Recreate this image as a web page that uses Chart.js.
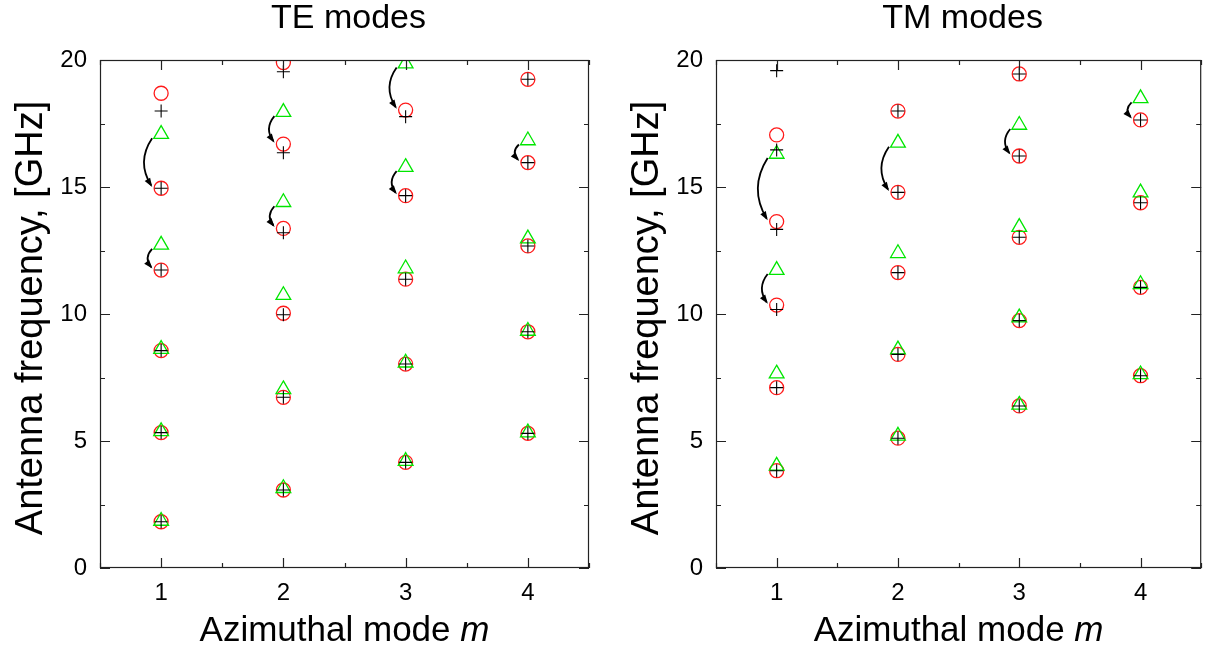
<!DOCTYPE html>
<html>
<head>
<meta charset="utf-8">
<script src="https://cdn.jsdelivr.net/npm/chart.js@4.4.1/dist/chart.umd.min.js"></script>
<style>
  body { margin: 0; background: #fff; width: 1211px; height: 661px; overflow: hidden; position: relative; }
  canvas { position: absolute; top: 0; }
  #te { left: 0; }
  #tm { left: 605px; }
</style>
</head>
<body>
<canvas id="te" width="605" height="661"></canvas>
<canvas id="tm" width="606" height="661"></canvas>
<script>
const modes = [1, 2, 3, 4];
const xTicks = [1, 2, 3, 4];
const yTicks = [0, 5, 10, 15, 20];

// TE modes, one list per m
const teCircle = [
  [18.69, 14.95, 11.73, 8.56, 5.33, 1.82],
  [19.90, 16.69, 13.37, 10.03, 6.72, 3.07],
  [18.03, 14.66, 11.37, 8.03, 4.16],
  [19.24, 15.96, 12.68, 9.30, 5.30]
];
const tePlus = [
  [17.99, 14.95, 11.73, 8.56, 5.33, 1.82],
  [19.54, 16.35, 13.20, 9.97, 6.72, 3.07],
  [17.77, 14.66, 11.37, 8.03, 4.16],
  [19.24, 15.96, 12.68, 9.30, 5.30]
];
const teTriangle = [
  [17.08, 12.72, 8.62, 5.38, 1.85],
  [17.95, 14.40, 10.74, 7.03, 3.14],
  [19.86, 15.78, 11.79, 8.08, 4.21],
  [16.83, 12.97, 9.33, 5.33]
];
// [m, from (triangle), to (circle)]
const teArrows = [
  [1, 17.08, 14.95], [1, 12.72, 11.73],
  [2, 17.95, 16.69], [2, 14.40, 13.37],
  [3, 19.86, 18.03], [3, 15.78, 14.66],
  [4, 16.83, 15.96]
];

// TM modes
const tmCircle = [
  [17.05, 13.64, 10.35, 7.10, 3.83],
  [17.99, 14.79, 11.63, 8.41, 5.11],
  [19.45, 16.22, 13.02, 9.74, 6.38],
  [17.64, 14.38, 11.05, 7.57]
];
const tmPlus = [
  [19.58, 16.46, 13.33, 10.18, 7.10, 3.83],
  [17.99, 14.79, 11.63, 8.41, 5.11],
  [19.45, 16.22, 13.02, 9.74, 6.38],
  [17.64, 14.38, 11.05, 7.57]
];
const tmTriangle = [
  [16.30, 11.73, 7.65, 4.02],
  [16.74, 12.39, 8.60, 5.20],
  [17.44, 13.42, 9.86, 6.42],
  [18.49, 14.78, 11.17, 7.62]
];
const tmArrows = [
  [1, 16.30, 13.64], [1, 11.73, 10.35],
  [2, 16.74, 14.79],
  [3, 17.44, 16.22],
  [4, 18.49, 17.64]
];

const FONT = '"Liberation Sans", Arial, Helvetica, sans-serif';

function points(lists) {
  const out = [];
  lists.forEach((vals, i) => vals.forEach(v => out.push({ x: modes[i], y: v })));
  return out;
}

// frame with inward ticks, titles and the little curved arrows
const framePlugin = {
  id: 'frame',
  afterDatasetsDraw(chart, args, opts) {
    const ctx = chart.ctx, xs = chart.scales.x, ys = chart.scales.y;
    ctx.save();
    ctx.strokeStyle = '#000';
    ctx.fillStyle = '#000';
    ctx.lineWidth = 1.8;
    opts.arrows.forEach(([m, from, to]) => {
      const px = xs.getPixelForValue(m);
      const x0 = px - 9, y0 = ys.getPixelForValue(from) + 4;
      const x1 = px - 10, y1 = ys.getPixelForValue(to) - 3;
      const len = y1 - y0;
      const cx = px - 10 - (3 + 0.25 * len), cy = (y0 + y1) / 2;
      ctx.beginPath();
      ctx.moveTo(x0, y0);
      ctx.quadraticCurveTo(cx, cy, x1, y1);
      ctx.stroke();
      const a = Math.atan2(y1 - cy, x1 - cx);
      ctx.beginPath();
      ctx.moveTo(x1 + 2 * Math.cos(a), y1 + 2 * Math.sin(a));
      ctx.lineTo(x1 - 7 * Math.cos(a) + 3.2 * Math.sin(a), y1 - 7 * Math.sin(a) - 3.2 * Math.cos(a));
      ctx.lineTo(x1 - 7 * Math.cos(a) - 3.2 * Math.sin(a), y1 - 7 * Math.sin(a) + 3.2 * Math.cos(a));
      ctx.closePath();
      ctx.fill();
    });
    ctx.restore();
  },
  afterDraw(chart, args, opts) {
    const ctx = chart.ctx, a = chart.chartArea, xs = chart.scales.x, ys = chart.scales.y;
    ctx.save();
    ctx.strokeStyle = '#222';
    ctx.lineWidth = 1.2;
    ctx.strokeRect(a.left + 0.5, a.top + 0.5, a.right - a.left - 1, a.bottom - a.top - 1);
    ctx.beginPath();
    for (let v = 0.5; v <= 4.5; v += 0.5) {
      const p = Math.round(xs.getPixelForValue(v)) + 0.5;
      const l = Number.isInteger(v) ? 10 : 5;
      ctx.moveTo(p, a.bottom); ctx.lineTo(p, a.bottom - l);
      ctx.moveTo(p, a.top); ctx.lineTo(p, a.top + l);
    }
    for (let v = 0; v <= 20; v += 2.5) {
      const p = Math.round(ys.getPixelForValue(v)) + 0.5;
      const l = v % 5 === 0 ? 10 : 5;
      ctx.moveTo(a.left, p); ctx.lineTo(a.left + l, p);
      ctx.moveTo(a.right, p); ctx.lineTo(a.right - l, p);
    }
    ctx.stroke();

    const mid = (a.left + a.right) / 2;
    ctx.fillStyle = '#000';
    ctx.textBaseline = 'alphabetic';
    ctx.textAlign = 'center';
    ctx.font = '34px ' + FONT;
    ctx.fillText(opts.title, mid + 4, 28);

    // x title with italic m
    const t1 = 'Azimuthal mode ', t2 = 'm';
    ctx.font = '35px ' + FONT;
    const w1 = ctx.measureText(t1).width;
    ctx.font = 'italic 35px ' + FONT;
    const w2 = ctx.measureText(t2).width;
    const sx = mid - (w1 + w2) / 2;
    ctx.textAlign = 'left';
    ctx.font = '35px ' + FONT;
    ctx.fillText(t1, sx, 641);
    ctx.font = 'italic 35px ' + FONT;
    ctx.fillText(t2, sx + w1, 641);

    // y title
    ctx.translate(a.left - 58, (a.top + a.bottom) / 2 + 4);
    ctx.rotate(-Math.PI / 2);
    ctx.textAlign = 'center';
    ctx.font = '38px ' + FONT;
    ctx.fillText('Antenna frequency, [GHz]', 0, 0);
    ctx.restore();
  }
};

function makePanel(id, title, circles, pluses, triangles, arrows, leftW, padRight) {
  return new Chart(document.getElementById(id), {
    type: 'scatter',
    data: {
      datasets: [
        { data: points(pluses), pointStyle: 'cross', pointRadius: 6.5, borderColor: '#000', borderWidth: 1.1 },
        { data: points(triangles), pointStyle: 'triangle', pointRadius: 8.5, borderColor: '#00e600', backgroundColor: 'rgba(0,0,0,0)', borderWidth: 1.3 },
        { data: points(circles), pointStyle: 'circle', pointRadius: 7, borderColor: '#ff1a1a', backgroundColor: 'rgba(0,0,0,0)', borderWidth: 1.3 }
      ]
    },
    options: {
      responsive: false,
      animation: false,
      events: [],
      layout: { padding: { top: 60, right: padRight, left: 0, bottom: 0 } },
      plugins: {
        legend: { display: false },
        tooltip: { enabled: false },
        frame: { title, arrows }
      },
      scales: {
        x: {
          type: 'linear', min: 0.5, max: 4.5,
          grid: { display: false, drawTicks: false },
          border: { display: false },
          afterBuildTicks: s => { s.ticks = xTicks.map(v => ({ value: v })); },
          afterFit: s => { s.height = 93; },
          ticks: { color: '#000', padding: 11, font: { family: FONT, size: 24 } }
        },
        y: {
          min: 0, max: 20,
          grid: { display: false, drawTicks: false },
          border: { display: false },
          afterBuildTicks: s => { s.ticks = yTicks.map(v => ({ value: v })); },
          afterFit: s => { s.width = leftW; },
          ticks: { color: '#000', padding: 13, font: { family: FONT, size: 24 } }
        }
      }
    },
    plugins: [framePlugin]
  });
}

makePanel('te', 'TE modes', teCircle, tePlus, teTriangle, teArrows, 100, 16);
makePanel('tm', 'TM modes', tmCircle, tmPlus, tmTriangle, tmArrows, 111, 9);
</script>
</body>
</html>
